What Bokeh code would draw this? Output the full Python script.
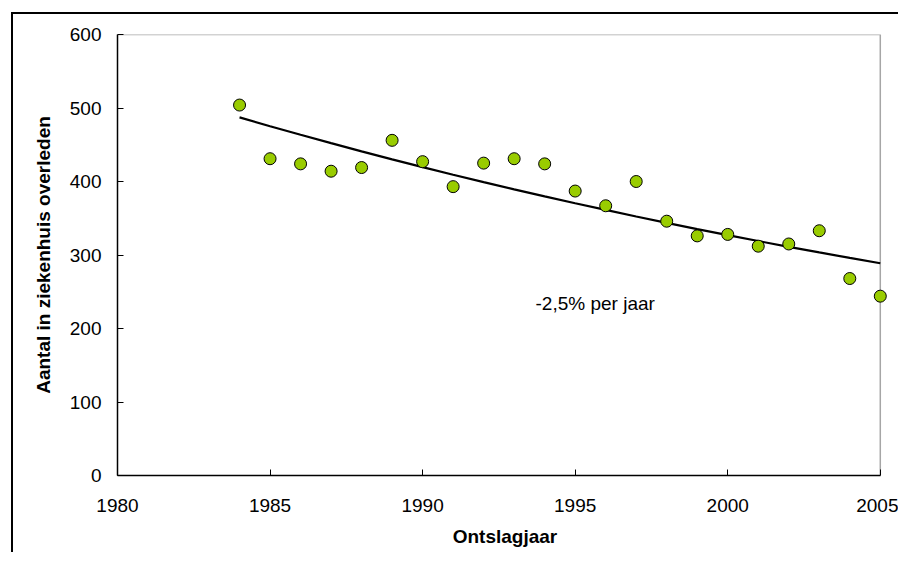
import numpy as np
from bokeh.plotting import figure
from bokeh.models import Range1d, Label
from bokeh.embed import file_html
from bokeh.resources import INLINE

# data
jaren = [1984, 1985, 1986, 1987, 1988, 1989, 1990, 1991, 1992, 1993, 1994,
         1995, 1996, 1997, 1998, 1999, 2000, 2001, 2002, 2003, 2004, 2005]
overleden = [504, 431, 424, 414, 419, 456, 427, 393, 425, 431, 424,
             387, 367, 400, 346, 326, 328, 312, 315, 333, 268, 244]
x_ticks = [1980, 1985, 1990, 1995, 2000, 2005]
y_ticks = [0, 100, 200, 300, 400, 500, 600]
trend_label = "-2,5% per jaar"

# exponential trendline like Excel: ln(y) = a + b*x
b, a = np.polyfit(jaren, np.log(overleden), 1)
trend_y = np.exp(a + b * np.array(jaren))

FONT = "Liberation Sans"

p = figure(frame_width=775, frame_height=441,
           min_border_left=104, min_border_right=6,
           min_border_top=20, min_border_bottom=77,
           x_range=Range1d(x_ticks[0], 2005.4), y_range=Range1d(y_ticks[0], y_ticks[-1]),
           output_backend="svg", toolbar_location=None)
p.styles = {"border-left": "2px solid black", "border-top": "2px solid black",
            "margin-left": "11px", "margin-top": "12px"}
p.background_fill_color = "white"
p.border_fill_color = "white"
p.outline_line_color = None
p.xgrid.visible = False
p.ygrid.visible = False

p.xaxis.ticker = x_ticks
p.yaxis.ticker = y_ticks
p.xaxis.bounds = (x_ticks[0], x_ticks[-1])
for ax in (p.xaxis, p.yaxis):
    ax.axis_line_color = "black"
    ax.axis_line_width = 1.5
    ax.major_tick_line_color = "black"
    ax.major_tick_in = 6
    ax.major_tick_out = 0
    ax.minor_tick_line_color = None
    ax.major_label_text_font = FONT
    ax.major_label_text_font_size = "19px"
    ax.major_label_text_color = "black"
    ax.axis_label_text_font = FONT
    ax.axis_label_text_font_size = "19px"
    ax.axis_label_text_font_style = "bold"
    ax.axis_label_text_color = "black"

p.xaxis.axis_label = "Ontslagjaar"
p.yaxis.axis_label = "Aantal in ziekenhuis overleden"
p.xaxis.major_label_standoff = 23
p.yaxis.major_label_standoff = 16
p.xaxis.axis_label_standoff = 11
p.yaxis.axis_label_standoff = 13

# grey top and right border of the plot area
p.line([x_ticks[0], x_ticks[-1], x_ticks[-1]], [y_ticks[-1], y_ticks[-1], y_ticks[0]],
       line_color="#a6a6a6", line_width=1.5)

p.line(jaren, trend_y, line_color="black", line_width=2.2)
p.scatter(jaren, overleden, size=12, fill_color="#99CC00", line_color="black", line_width=1)

p.add_layout(Label(x=1993.7, y=234, text=trend_label, text_font=FONT,
                   text_font_size="19px", text_color="black", text_baseline="alphabetic"))

open("out.html", "w").write(file_html(p, INLINE))
